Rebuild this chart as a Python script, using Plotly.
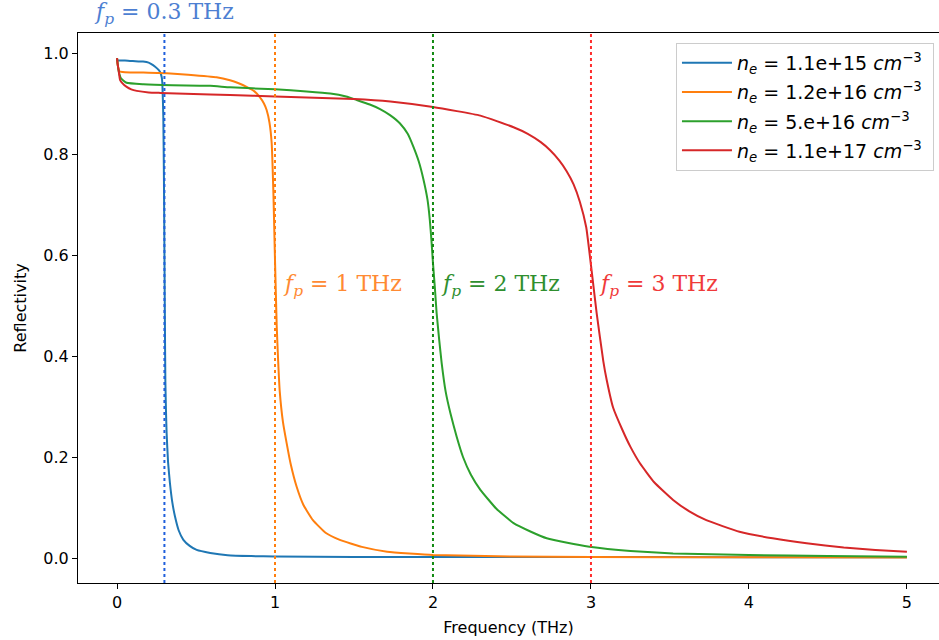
import plotly.graph_objects as go

# ---- data ----
f_blue = [0, 0.05, 0.1, 0.165, 0.2, 0.228, 0.255, 0.272, 0.283, 0.287, 0.293, 0.297, 0.300, 0.303,
          0.306, 0.31, 0.314, 0.323, 0.335, 0.35, 0.367, 0.39, 0.42, 0.46, 0.504, 0.59, 0.7, 0.85,
          1.0, 1.5, 2.0, 3.0, 4.0, 5.0]
r_blue = [0.985, 0.985, 0.984, 0.983, 0.981, 0.976, 0.969, 0.963, 0.952, 0.94, 0.874, 0.75, 0.61, 0.47,
          0.35, 0.29, 0.247, 0.19, 0.148, 0.11, 0.082, 0.055, 0.036, 0.024, 0.016, 0.01, 0.0055, 0.0038,
          0.003, 0.0022, 0.002, 0.0018, 0.0017, 0.0016]

f_orange = [0, 0.005, 0.015, 0.05, 0.2, 0.315, 0.45, 0.63, 0.715, 0.77, 0.82, 0.87, 0.905, 0.93,
            0.947, 0.965, 0.979, 0.99, 1.0, 1.011, 1.02, 1.03, 1.05, 1.074, 1.1, 1.137, 1.18, 1.24,
            1.32, 1.41, 1.55, 1.71, 2.0, 2.5, 3.0, 4.0, 5.0]
r_orange = [0.99, 0.975, 0.964, 0.962, 0.961, 0.96, 0.957, 0.952, 0.946, 0.94, 0.933, 0.924, 0.912, 0.9,
            0.887, 0.862, 0.821, 0.722, 0.59, 0.458, 0.39, 0.33, 0.27, 0.227, 0.185, 0.141, 0.105, 0.075,
            0.05, 0.036, 0.022, 0.0125, 0.006, 0.003, 0.002, 0.0013, 0.001]

f_green = [0, 0.01, 0.025, 0.06, 0.167, 0.35, 0.59, 0.715, 1.0, 1.2, 1.35, 1.45, 1.517, 1.6, 1.665,
           1.728, 1.79, 1.84, 1.875, 1.91, 1.94, 1.965, 1.98, 1.99, 2.0, 2.012, 2.023, 2.04, 2.055,
           2.08, 2.11, 2.15, 2.19, 2.24, 2.30, 2.4, 2.51, 2.62, 2.72, 2.85, 2.99, 3.25, 3.52, 4.0,
           4.5, 5.0]
r_green = [0.99, 0.965, 0.95, 0.941, 0.938, 0.936, 0.935, 0.932, 0.928, 0.924, 0.92, 0.914, 0.907, 0.898,
           0.889, 0.877, 0.861, 0.84, 0.815, 0.785, 0.749, 0.71, 0.669, 0.63, 0.584, 0.535, 0.485, 0.43,
           0.386, 0.33, 0.287, 0.24, 0.2, 0.165, 0.135, 0.098, 0.069, 0.052, 0.039, 0.03, 0.0224, 0.014,
           0.009, 0.006, 0.004, 0.0026]

f_red = [0, 0.004, 0.01, 0.019, 0.035, 0.061, 0.09, 0.125, 0.2, 0.272, 0.59, 0.715, 1.0, 1.5, 1.73,
         2.0, 2.3, 2.51, 2.6, 2.68, 2.74, 2.8, 2.846, 2.89, 2.93, 2.97, 3.0, 3.036, 3.078, 3.10, 3.14,
         3.2, 3.25, 3.31, 3.4, 3.52, 3.62, 3.73, 3.94, 4.15, 4.365, 4.6, 4.8, 5.0]
r_red = [0.99, 0.978, 0.966, 0.947, 0.94, 0.933, 0.928, 0.925, 0.922, 0.921, 0.918, 0.917, 0.914, 0.909,
         0.904, 0.893, 0.876, 0.853, 0.840, 0.824, 0.808, 0.787, 0.766, 0.740, 0.705, 0.655, 0.58, 0.485,
         0.39, 0.352, 0.298, 0.253, 0.22, 0.1875, 0.15, 0.115, 0.093, 0.075, 0.052, 0.039, 0.029, 0.021,
         0.016, 0.0125]

series_names = ["<i>n</i><sub><i>e</i></sub> = 1.1e+15 <i>cm</i><sup>−3</sup>&nbsp;",
                "<i>n</i><sub><i>e</i></sub> = 1.2e+16 <i>cm</i><sup>−3</sup>&nbsp;",
                "<i>n</i><sub><i>e</i></sub> = 5.e+16 <i>cm</i><sup>−3</sup>&nbsp;",
                "<i>n</i><sub><i>e</i></sub> = 1.1e+17 <i>cm</i><sup>−3</sup>&nbsp;"]
line_colors = ["#1f77b4", "#ff7f0e", "#2ca02c", "#d62728"]

fp_values = [0.3, 1, 2, 3]
fp_labels = ["0.3", "1", "2", "3"]
vline_colors = ["#1f5fdc", "#ff7f0e", "#128a12", "#ff2e2e"]
text_colors = ["#4d7fd2", "#ff8a33", "#2f8f2f", "#f03a3a"]

fig = go.Figure()
for i, (fx, ry, name, col) in enumerate(zip([f_blue, f_orange, f_green, f_red],
                                            [r_blue, r_orange, r_green, r_red], series_names, line_colors)):
    fig.add_trace(go.Scatter(x=fx, y=ry, mode="lines", name=name, legendgroup="g%d" % i,
                             line=dict(color=col, width=2, shape="spline", smoothing=0.4)))

for fp, col in zip(fp_values, vline_colors):
    fig.add_shape(type="line", xref="x", yref="paper", x0=fp, x1=fp, y0=0, y1=1,
                  line=dict(color=col, width=2, dash="dot"))

serif = "DejaVu Serif, Liberation Serif, serif"
fig.add_annotation(x=-0.16, xref="x", y=1.036, yref="paper", xanchor="left", yanchor="middle",
                   text="<i>f</i><sub><i>p</i></sub> = " + fp_labels[0] + " THz", showarrow=False,
                   font=dict(family=serif, size=22, color=text_colors[0]))
for fp, lab, col in zip(fp_values[1:], fp_labels[1:], text_colors[1:]):
    fig.add_annotation(x=fp + 0.04, xref="x", y=0.54, yref="y", xanchor="left", yanchor="middle",
                       text="<i>f</i><sub><i>p</i></sub> = " + lab + " THz", showarrow=False,
                       font=dict(family=serif, size=22, color=col))

axis_font = dict(family="DejaVu Sans", size=16, color="black")
fig.update_layout(
    width=939, height=640,
    margin=dict(l=78, r=0, t=33, b=57, autoexpand=False),
    paper_bgcolor="white", plot_bgcolor="white",
    font=axis_font,
    showlegend=True,
    legend=dict(x=0.6945, y=0.982, xanchor="left", yanchor="top",
                bgcolor="white", bordercolor="#cccccc", borderwidth=1,
                font=dict(family="DejaVu Sans", size=19, color="black"),
                tracegroupgap=1.5, itemwidth=50),
    xaxis=dict(range=[-0.247, 5.203], tickmode="array", tickvals=[0, 1, 2, 3, 4, 5],
               ticktext=["0", "1", "2", "3", "4", "5"], automargin=False,
               showgrid=False, zeroline=False, showline=True, linecolor="black", linewidth=1,
               mirror=True, ticks="outside", ticklen=5, tickcolor="black",
               title=dict(text="Frequency (THz)", font=axis_font, standoff=10),
               tickfont=axis_font),
    yaxis=dict(range=[-0.0495, 1.0396], tickmode="array",
               tickvals=[0, 0.2, 0.4, 0.6, 0.8, 1.0],
               ticktext=["0.0", "0.2", "0.4", "0.6", "0.8", "1.0"], automargin=False,
               showgrid=False, zeroline=False, showline=True, linecolor="black", linewidth=1,
               ticks="outside", ticklen=5, tickcolor="black",
               title=dict(text="Reflectivity", font=axis_font, standoff=12),
               tickfont=axis_font),
)

fig.write_html("out.html", config={"displayModeBar": False},
               post_script="document.body.style.margin='0px';")
